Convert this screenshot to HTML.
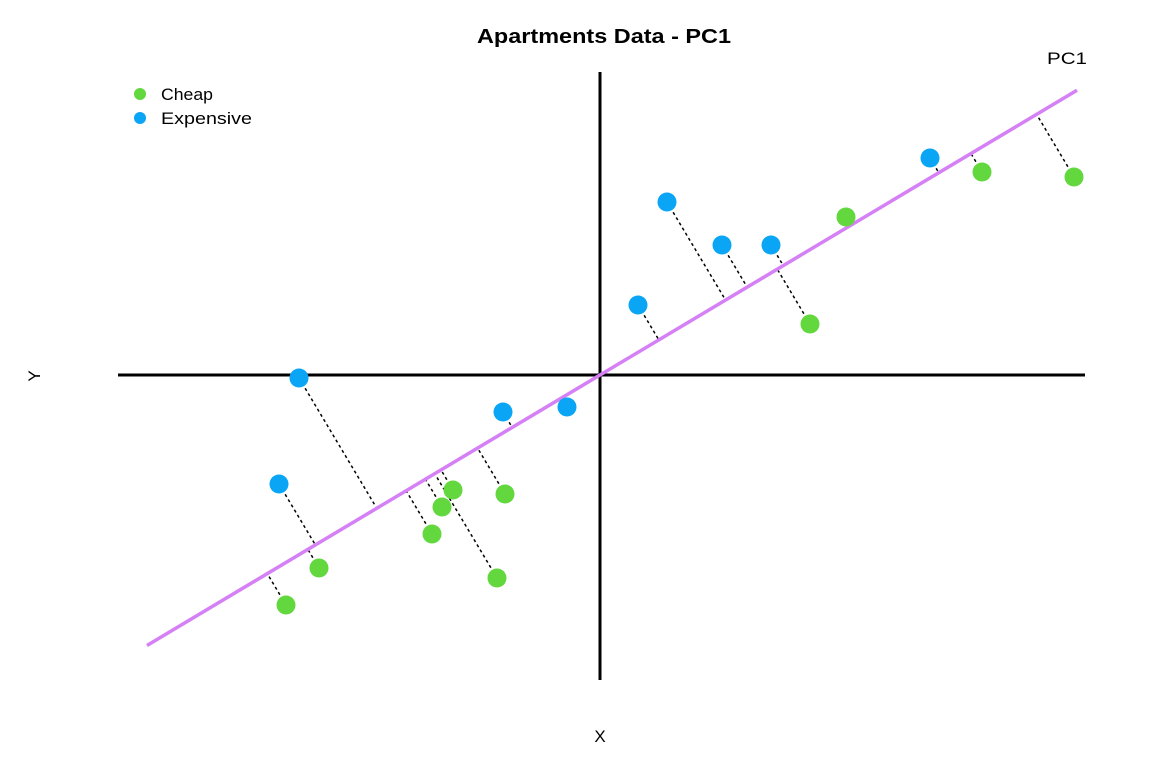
<!DOCTYPE html>
<html><head><meta charset="utf-8"><style>
html,body{margin:0;padding:0;background:#fff;}
svg{display:block;font-family:"Liberation Sans",sans-serif;}
</style></head><body>
<svg id="chart" width="1166" height="762">
<text x="604" y="43" text-anchor="middle" font-size="20" font-weight="bold" textLength="254" lengthAdjust="spacingAndGlyphs">Apartments Data - PC1</text>
<text x="1067" y="64" text-anchor="middle" font-size="17" textLength="40" lengthAdjust="spacingAndGlyphs">PC1</text>
<text x="600" y="742" text-anchor="middle" font-size="17">X</text>
<text x="0" y="0" transform="translate(40,376) rotate(-90)" text-anchor="middle" font-size="17">Y</text>
<g>
<circle cx="140" cy="94" r="6" fill="#62d83e"/>
<text x="161" y="100" font-size="17" textLength="52" lengthAdjust="spacingAndGlyphs">Cheap</text>
<circle cx="140" cy="118" r="6" fill="#0aa5f5"/>
<text x="161" y="124" font-size="17" textLength="91" lengthAdjust="spacingAndGlyphs">Expensive</text>
</g>
<g id="plot"></g>
</svg>
<script>
const cheapX = [-314,-281,-168,-158,-147,-95,-103,210,246,382,474];
const cheapY = [-230,-193,-159,-132,-115,-119,-203,51,158,203,198];
const expX = [-301,-321,-97,-33,38,67,122,171,330];
const expY = [-3,-109,-37,-32,70,173,130,130,217];
const pcSlope = 0.597;
const pcRange = [-453,477];
const xDomain = [-482,485];
const yDomain = [-305,303];

const X0=118,X1=1085,Y0=680,Y1=72;
function sx(v){return X0+(v-xDomain[0])/(xDomain[1]-xDomain[0])*(X1-X0);}
function sy(v){return Y0-(v-yDomain[0])/(yDomain[1]-yDomain[0])*(Y0-Y1);}
const NS="http://www.w3.org/2000/svg";
const g=document.getElementById('plot');
function mk(t,a){const e=document.createElementNS(NS,t);for(const k in a)e.setAttribute(k,a[k]);g.appendChild(e);return e;}

let e=mk('line',{x1:sx(xDomain[0]),y1:sy(0),x2:sx(xDomain[1]),y2:sy(0),stroke:'#000','stroke-width':3});


e=mk('line',{x1:sx(0),y1:sy(yDomain[0]),x2:sx(0),y2:sy(yDomain[1]),stroke:'#000','stroke-width':3});



function proj(x,y){const t=(x+pcSlope*y)/(1+pcSlope*pcSlope);return [t,t*pcSlope];}
function drawProj(xs,ys,name){
  for(let i=0;i<xs.length;i++){
    const p=proj(xs[i],ys[i]);
    const l=mk('line',{x1:sx(xs[i]),y1:sy(ys[i]),x2:sx(p[0]),y2:sy(p[1]),stroke:'#000','stroke-width':1.5,'stroke-dasharray':'3,3'});
    
    
  }
}
drawProj(cheapX,cheapY,'cheap');
drawProj(expX,expY,'expensive');

e=mk('line',{x1:sx(pcRange[0]),y1:sy(pcRange[0]*pcSlope),x2:sx(pcRange[1]),y2:sy(pcRange[1]*pcSlope),stroke:'#d580f5','stroke-width':3.5});



function drawPts(xs,ys,col,name){
  for(let i=0;i<xs.length;i++){
    const c=mk('circle',{cx:sx(xs[i]),cy:sy(ys[i]),r:9.5,fill:col});
    
    
  }
}
drawPts(cheapX,cheapY,'#62d83e','cheap');
drawPts(expX,expY,'#0aa5f5','expensive');
</script>
</body></html>
